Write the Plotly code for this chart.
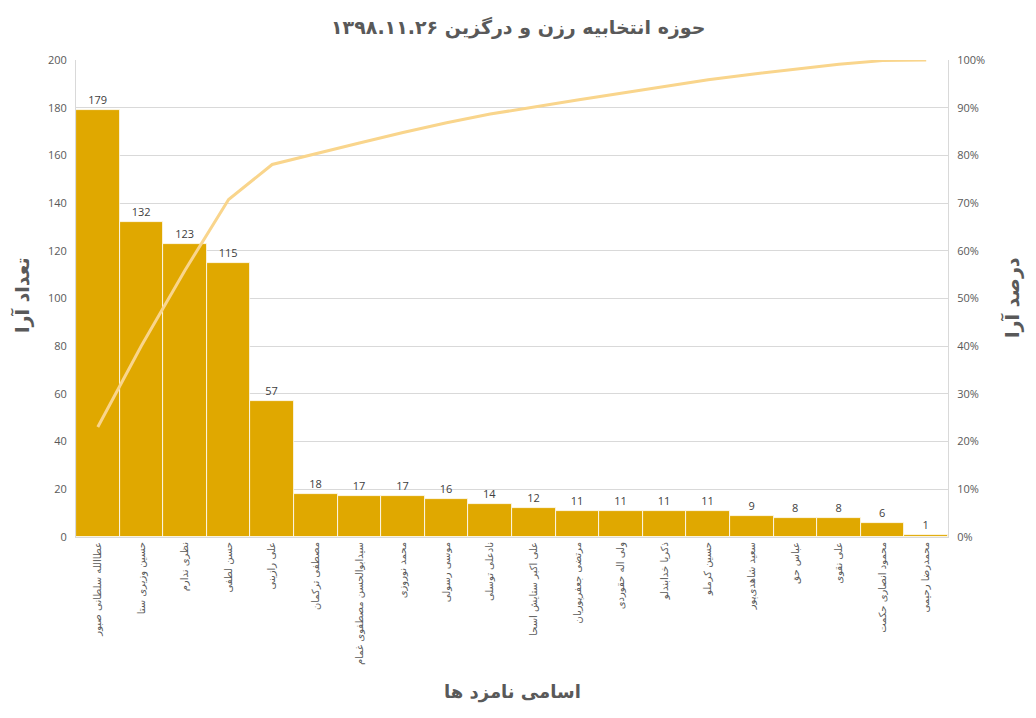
import numpy as np
import plotly.graph_objects as go

# candidates and vote counts
candidates = [
    "عطاالله سلطانی صبور",
    "حسین وزیری ستا",
    "نظری ندارم",
    "حسن لطفی",
    "علی رازینی",
    "مصطفی ترکمان",
    "سیدابوالحسن مصطفوی غمام",
    "محمد نوروزی",
    "موسی رسولی",
    "نادعلی توسلی",
    "علی اکبر ستایش اسحا",
    "مرتضی جعفرپوریان",
    "ولی اله حقوردی",
    "ذکریا خدابندلو",
    "حسین کرملو",
    "سعید شاهدی‌پور",
    "عباس حق",
    "علی نقوی",
    "محمود انصاری حکمت",
    "محمدرضا رحیمی",
]
votes = [179, 132, 123, 115, 57, 18, 17, 17, 16, 14, 12, 11, 11, 11, 11, 9, 8, 8, 6, 1]

left_ticks = [0, 20, 40, 60, 80, 100, 120, 140, 160, 180, 200]
right_ticks = [0, 10, 20, 30, 40, 50, 60, 70, 80, 90, 100]

# pareto line: cumulative share of the votes
cum_pct = np.cumsum(votes) / np.sum(votes) * 100

text_color = "#595959"
fa_font = "DejaVu Sans"
num_font = "Open Sans"

# the page body has an 8px margin, so the figure is a bit smaller than the window
W, H = 1020, 702
ML, MR, MT, MB = 68, 80, 52, 173
pw = W - ML - MR
ph = H - MT - MB


def px_to_paper(x, y):
    # x, y in window pixels
    return (x - 8 - ML) / pw, (H - MB - (y - 8)) / ph


fig = go.Figure()

fig.add_trace(
    go.Bar(
        x=candidates,
        y=votes,
        text=[str(v) for v in votes],
        textposition="outside",
        textfont=dict(family=num_font, size=11, color="#404040"),
        marker=dict(color="#E0A800", line=dict(color="white", width=0.8)),
        cliponaxis=False,
        showlegend=False,
    )
)

fig.add_trace(
    go.Scatter(
        x=candidates,
        y=cum_pct,
        yaxis="y2",
        mode="lines",
        line=dict(color="#F9D58C", width=3),
        showlegend=False,
    )
)

ax_l = px_to_paper(22, 295)
ax_r = px_to_paper(1012, 298)
ax_b = px_to_paper(512, 692)
tt = px_to_paper(518, 27)

fig.update_layout(
    width=W,
    height=H,
    margin=dict(l=ML, r=MR, t=MT, b=MB),
    paper_bgcolor="white",
    plot_bgcolor="white",
    bargap=0,
    xaxis=dict(
        tickangle=-90,
        tickfont=dict(family=fa_font, size=10, color=text_color),
        showline=True,
        linecolor="#D9D9D9",
        ticks="",
        showgrid=False,
        automargin=False,
    ),
    yaxis=dict(
        range=[0, 200],
        tickvals=left_ticks,
        tickfont=dict(family=num_font, size=11, color=text_color),
        gridcolor="#D9D9D9",
        showline=True,
        linecolor="#D9D9D9",
        zeroline=False,
        ticks="",
        ticklabelstandoff=6,
        automargin=False,
    ),
    yaxis2=dict(
        range=[0, 100],
        tickvals=right_ticks,
        ticktext=[f"{t}%" for t in right_ticks],
        overlaying="y",
        side="right",
        tickfont=dict(family=num_font, size=11, color=text_color),
        showgrid=False,
        showline=True,
        linecolor="#D9D9D9",
        zeroline=False,
        ticks="",
        ticklabelstandoff=6,
        automargin=False,
    ),
    annotations=[
        dict(
            text="<b>حوزه انتخابیه رزن و درگزین ۱۳۹۸.۱۱.۲۶</b>",
            x=tt[0], y=tt[1], xref="paper", yref="paper",
            xanchor="center", yanchor="middle", showarrow=False,
            font=dict(family=fa_font, size=19, color=text_color),
        ),
        dict(
            text="<b>تعداد آرا</b>",
            x=ax_l[0], y=ax_l[1], xref="paper", yref="paper",
            xanchor="center", yanchor="middle", showarrow=False, textangle=-90,
            font=dict(family=fa_font, size=19, color=text_color),
        ),
        dict(
            text="<b>درصد آرا</b>",
            x=ax_r[0], y=ax_r[1], xref="paper", yref="paper",
            xanchor="center", yanchor="middle", showarrow=False, textangle=-90,
            font=dict(family=fa_font, size=19, color=text_color),
        ),
        dict(
            text="<b>اسامی نامزد ها</b>",
            x=ax_b[0], y=ax_b[1], xref="paper", yref="paper",
            xanchor="center", yanchor="middle", showarrow=False,
            font=dict(family=fa_font, size=18, color=text_color),
        ),
    ],
)

fig.write_html("out.html")
